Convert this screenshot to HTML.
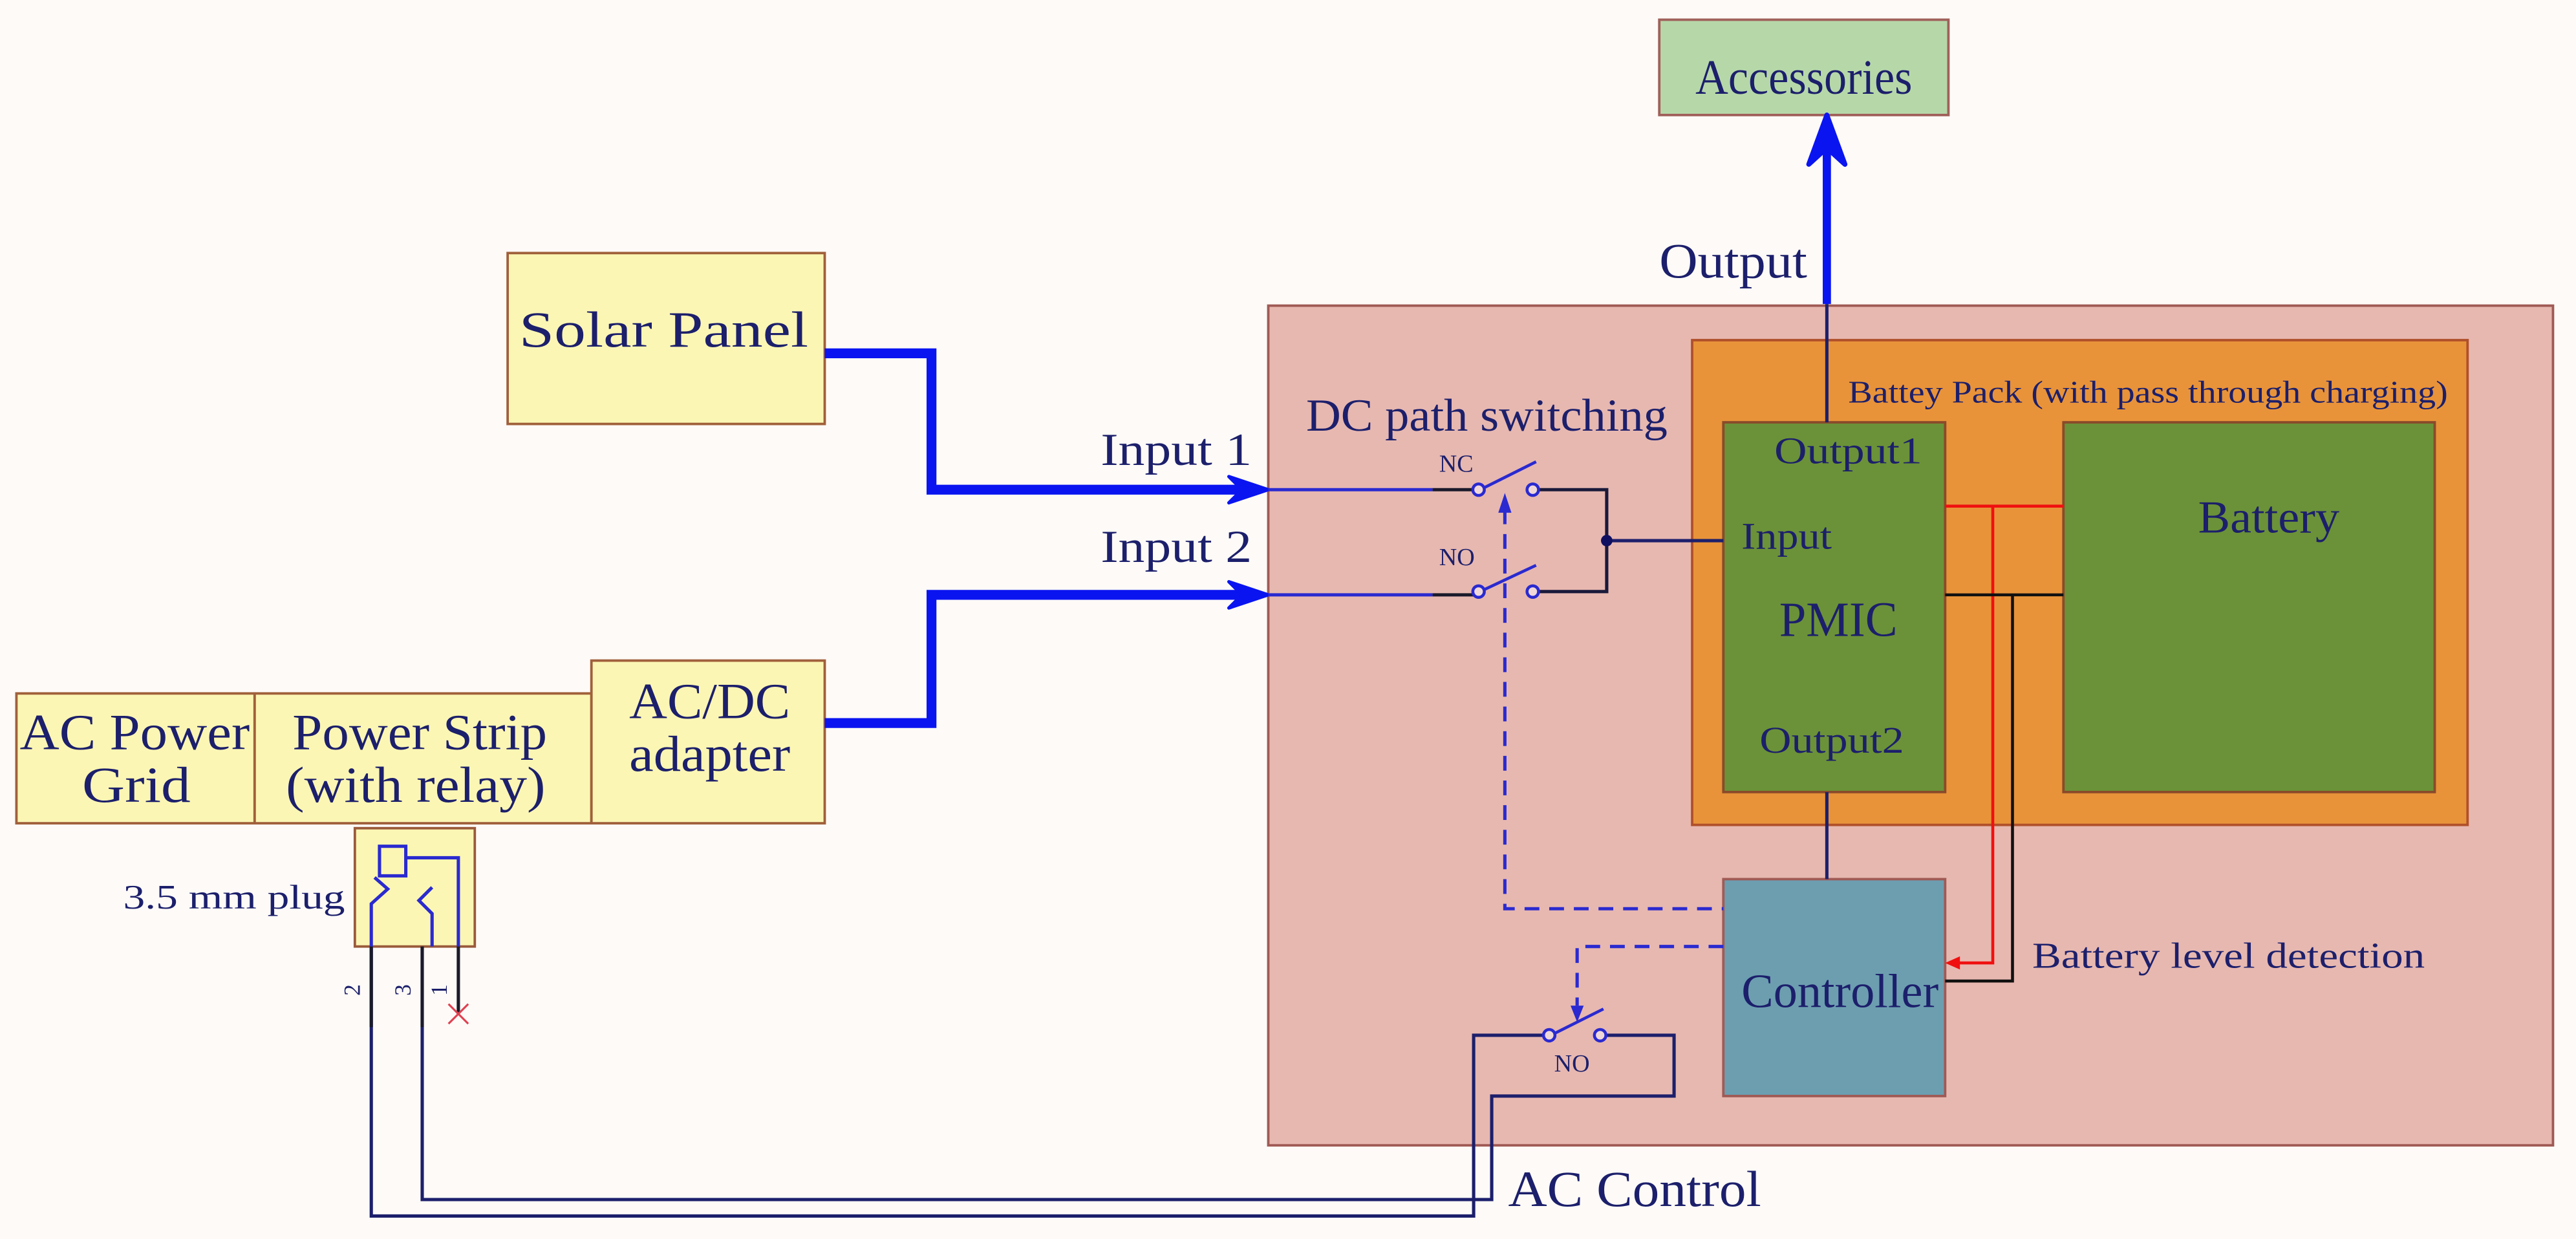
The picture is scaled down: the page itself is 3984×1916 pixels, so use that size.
<!DOCTYPE html>
<html><head><meta charset="utf-8"><style>
html,body{margin:0;padding:0;background:#fdfaf7;}
svg{display:block}
text{font-family:"Liberation Serif",serif;fill:#1c1f6b}
</style></head><body>
<svg width="3984" height="1916" viewBox="0 0 1568 754" preserveAspectRatio="none" xmlns="http://www.w3.org/2000/svg">
<rect x="0" y="0" width="1568" height="754" fill="#fdfaf7"/>
<rect x="1010" y="12" width="176" height="58" fill="#b6d8a9" stroke="#a0605a" stroke-width="1.5"/>
<text x="1032" y="57" font-size="30" textLength="132" lengthAdjust="spacingAndGlyphs">Accessories</text>
<rect x="772" y="186" width="782" height="511" fill="#e7b8b0" stroke="#a05a55" stroke-width="1.5"/>
<rect x="1030" y="207" width="472" height="295" fill="#e8933a" stroke="#b0502a" stroke-width="1.5"/>
<rect x="1049" y="257" width="135" height="225" fill="#6b9238" stroke="#8a4a2a" stroke-width="1.5"/>
<rect x="1256" y="257" width="226" height="225" fill="#6b9238" stroke="#8a4a2a" stroke-width="1.5"/>
<rect x="1049" y="535" width="135" height="132" fill="#6c9eb0" stroke="#a05a55" stroke-width="1.5"/>
<text x="1125" y="245" font-size="19" textLength="365" lengthAdjust="spacingAndGlyphs">Battey Pack (with pass through charging)</text>
<text x="1080" y="282" font-size="23" fill="#1a1a3a" textLength="90" lengthAdjust="spacingAndGlyphs">Output1</text>
<text x="1060" y="334" font-size="23" fill="#1a1a3a" textLength="55" lengthAdjust="spacingAndGlyphs">Input</text>
<text x="1083" y="387" font-size="30" fill="#1a1a3a" textLength="72" lengthAdjust="spacingAndGlyphs">PMIC</text>
<text x="1071" y="458" font-size="23" fill="#1a1a3a" textLength="88" lengthAdjust="spacingAndGlyphs">Output2</text>
<text x="1338" y="324" font-size="28" fill="#1a1a3a" textLength="86" lengthAdjust="spacingAndGlyphs">Battery</text>
<text x="1060" y="613" font-size="29" textLength="120" lengthAdjust="spacingAndGlyphs">Controller</text>
<text x="1237" y="589" font-size="22" textLength="239" lengthAdjust="spacingAndGlyphs">Battery level detection</text>
<text x="795" y="262" font-size="28" textLength="220" lengthAdjust="spacingAndGlyphs">DC path switching</text>
<text x="1010" y="169" font-size="30" textLength="90" lengthAdjust="spacingAndGlyphs">Output</text>
<text x="670" y="283" font-size="28" textLength="92" lengthAdjust="spacingAndGlyphs">Input 1</text>
<text x="670" y="342" font-size="28" textLength="92" lengthAdjust="spacingAndGlyphs">Input 2</text>
<text x="918" y="734" font-size="31" textLength="154" lengthAdjust="spacingAndGlyphs">AC Control</text>
<line x1="1112" y1="257" x2="1112" y2="185" stroke="#1c1f6b" stroke-width="2"/>
<line x1="1112" y1="185" x2="1112" y2="92" stroke="#0a14f0" stroke-width="5"/>
<path d="M1101,100 L1112,70 L1123,100 L1112,90 Z" fill="#0a14f0" stroke="#0a14f0" stroke-width="3" stroke-linejoin="round"/>
<rect x="309" y="154" width="193" height="104" fill="#fbf6b4" stroke="#a0603a" stroke-width="1.5"/>
<text x="316" y="211" font-size="31" fill="#1a1a3a" textLength="176" lengthAdjust="spacingAndGlyphs">Solar Panel</text>
<rect x="10" y="422" width="145" height="79" fill="#fbf6b4" stroke="#a0603a" stroke-width="1.5"/>
<rect x="155" y="422" width="205" height="79" fill="#fbf6b4" stroke="#a0603a" stroke-width="1.5"/>
<rect x="360" y="402" width="142" height="99" fill="#fbf6b4" stroke="#a0603a" stroke-width="1.5"/>
<text x="12" y="456" font-size="31" fill="#1a1a3a" textLength="140" lengthAdjust="spacingAndGlyphs">AC Power</text>
<text x="50" y="488" font-size="31" fill="#1a1a3a" textLength="66" lengthAdjust="spacingAndGlyphs">Grid</text>
<text x="178" y="456" font-size="31" fill="#1a1a3a" textLength="155" lengthAdjust="spacingAndGlyphs">Power Strip</text>
<text x="174" y="488" font-size="31" fill="#1a1a3a" textLength="158" lengthAdjust="spacingAndGlyphs">(with relay)</text>
<text x="383" y="437" font-size="31" fill="#1a1a3a" textLength="98" lengthAdjust="spacingAndGlyphs">AC/DC</text>
<text x="383" y="469" font-size="31" fill="#1a1a3a" textLength="98" lengthAdjust="spacingAndGlyphs">adapter</text>
<polyline points="502,215 567,215 567,298 760,298" fill="none" stroke="#0a14f0" stroke-width="6"/>
<polyline points="502,440 567,440 567,362 760,362" fill="none" stroke="#0a14f0" stroke-width="6"/>
<path d="M748,290 L772,298 L748,306 L756,298 Z" fill="#0a14f0" stroke="#0a14f0" stroke-width="2" stroke-linejoin="round"/>
<path d="M748,354 L772,362 L748,370 L756,362 Z" fill="#0a14f0" stroke="#0a14f0" stroke-width="2" stroke-linejoin="round"/>
<line x1="772" y1="298" x2="872" y2="298" stroke="#2a2ad0" stroke-width="2"/>
<line x1="872" y1="298" x2="897" y2="298" stroke="#1a1a2a" stroke-width="2"/>
<line x1="772" y1="362" x2="872" y2="362" stroke="#2a2ad0" stroke-width="2"/>
<line x1="872" y1="362" x2="897" y2="362" stroke="#1a1a2a" stroke-width="2"/>
<polyline points="937,298 978,298 978,360 937,360" fill="none" stroke="#1a1a3a" stroke-width="2"/>
<line x1="978" y1="329" x2="1049" y2="329" stroke="#1c1f6b" stroke-width="2"/>
<circle cx="978" cy="329" r="3.5" fill="#101060"/>
<g stroke="#2a2ad0" stroke-width="1.8" fill="#f0d8d8">
<circle cx="900" cy="298" r="3.5"/><circle cx="933" cy="298" r="3.5"/>
<circle cx="900" cy="360" r="3.5"/><circle cx="933" cy="360" r="3.5"/>
<line x1="903" y1="297" x2="935" y2="281"/><line x1="903" y1="359" x2="935" y2="344"/>
</g>
<text x="876" y="287" font-size="15" fill="#2a2040">NC</text>
<text x="876" y="344" font-size="15" fill="#2a2040">NO</text>
<polyline points="916,310 916,553 1049,553" fill="none" stroke="#2a2ad0" stroke-width="2" stroke-dasharray="9,6"/>
<path d="M912,312 L916,300 L920,312 Z" fill="#2a2ad0"/>
<polyline points="1049,576 960,576 960,612" fill="none" stroke="#2a2ad0" stroke-width="2" stroke-dasharray="9,6"/>
<path d="M956,612 L960,622 L964,612 Z" fill="#2a2ad0"/>
<polyline points="940,630 897,630 897,740 226,740 226,560" fill="none" stroke="#1c1f6b" stroke-width="2"/>
<polyline points="976,630 1019,630 1019,667 908,667 908,730 257,730 257,560" fill="none" stroke="#1c1f6b" stroke-width="2"/>
<g stroke="#2a2ad0" stroke-width="1.8" fill="#f0d8d8">
<circle cx="943" cy="630" r="3.5"/><circle cx="974" cy="630" r="3.5"/>
<line x1="946" y1="629" x2="976" y2="614"/>
</g>
<text x="946" y="652" font-size="15" fill="#2a2040">NO</text>
<line x1="1112" y1="482" x2="1112" y2="535" stroke="#1c1f6b" stroke-width="2"/>
<polyline points="1184,308 1256,308" fill="none" stroke="#f01010" stroke-width="1.8"/>
<polyline points="1213,308 1213,586 1190,586" fill="none" stroke="#f01010" stroke-width="1.8"/>
<path d="M1184,586 L1193,582 L1193,590 Z" fill="#f01010"/>
<polyline points="1184,362 1256,362" fill="none" stroke="#111" stroke-width="1.8"/>
<polyline points="1225,362 1225,597 1184,597" fill="none" stroke="#111" stroke-width="1.8"/>
<rect x="216" y="504" width="73" height="72" fill="#fbf6b4" stroke="#9a5a3a" stroke-width="1.5"/>
<text x="75" y="553" font-size="21" fill="#1a1a3a" textLength="135" lengthAdjust="spacingAndGlyphs">3.5 mm plug</text>
<g fill="none" stroke="#2a2ad0" stroke-width="2">
<rect x="231" y="515" width="16" height="18"/>
<polyline points="247,522 279,522 279,576"/>
<polyline points="228,534 236,541 226,550 226,576"/>
<polyline points="263,540 255,548 263,556 263,576"/>
</g>
<line x1="226" y1="576" x2="226" y2="625" stroke="#1a1a2a" stroke-width="2"/>
<line x1="257" y1="576" x2="257" y2="625" stroke="#1a1a2a" stroke-width="2"/>
<line x1="279" y1="576" x2="279" y2="617" stroke="#1a1a2a" stroke-width="2"/>
<g stroke="#e04050" stroke-width="1.2"><line x1="273" y1="611" x2="285" y2="623"/><line x1="285" y1="611" x2="273" y2="623"/></g>
<text font-size="14" fill="#333" transform="translate(219,606) rotate(-90)">2</text>
<text font-size="14" fill="#333" transform="translate(250,606) rotate(-90)">3</text>
<text font-size="14" fill="#333" transform="translate(272,606) rotate(-90)">1</text>
</svg>
</body></html>
